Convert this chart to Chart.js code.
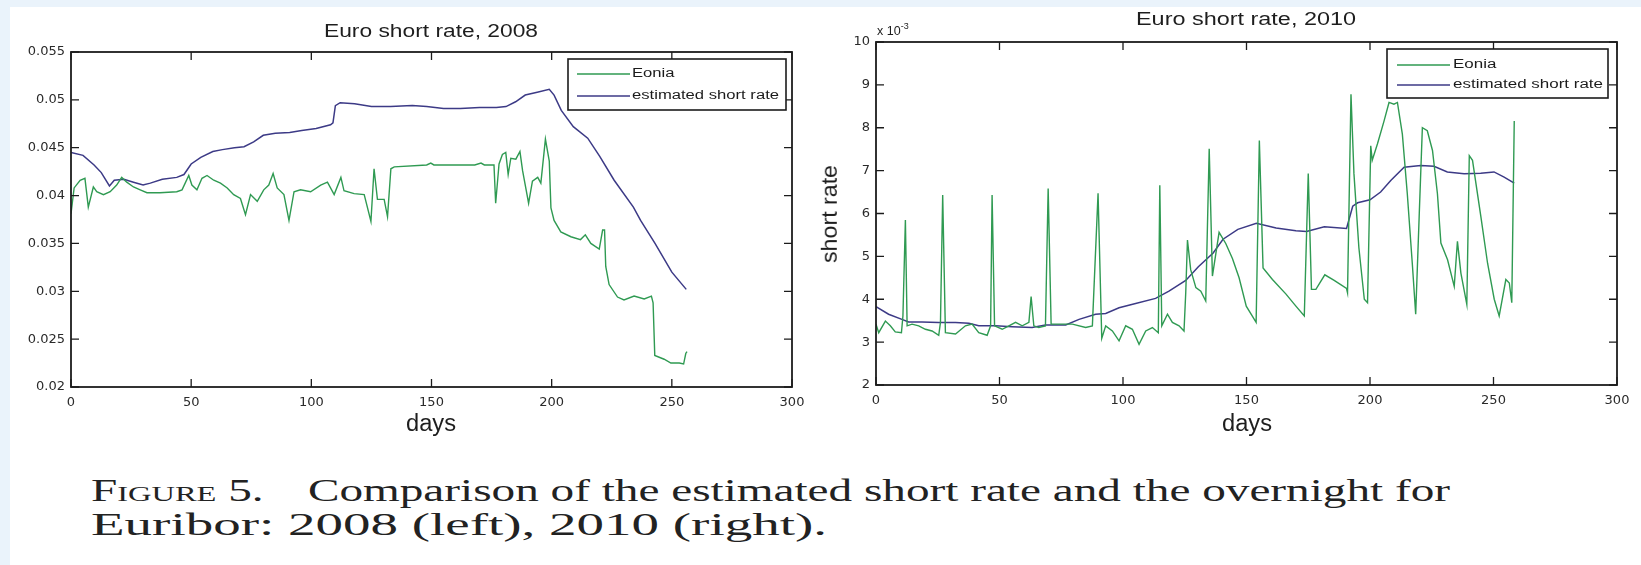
<!DOCTYPE html>
<html><head><meta charset="utf-8">
<title>Euro short rate</title>
<script src="https://cdn.jsdelivr.net/npm/chart.js@4.4.1/dist/chart.umd.min.js"></script>
<style>
html,body{margin:0;padding:0}
body{width:1641px;height:565px;overflow:hidden;position:relative;background:#ffffff}
#edgeL{position:absolute;left:0;top:0;width:10px;height:565px;background:#eaf3fb}
#edgeT{position:absolute;left:0;top:0;width:1641px;height:7px;background:#eaf3fb}
canvas{position:absolute;top:0}
.txt{position:absolute;white-space:nowrap;line-height:1;transform-origin:0 0;color:#1e1e1e}
.sans{font-family:"Liberation Sans",Arial,Helvetica,sans-serif}
.serif{font-family:"Liberation Serif","DejaVu Serif",serif;color:#222}
.sc{font-variant:small-caps}
</style></head><body>
<div id="edgeL"></div><div id="edgeT"></div>
<canvas id="c1" width="830" height="450" style="left:0px;width:830px;height:450px"></canvas>
<canvas id="c2" width="811" height="450" style="left:830px;width:811px;height:450px"></canvas>
<div class="txt sans" id="title1">Euro short rate, 2008</div>
<div class="txt sans" id="title2">Euro short rate, 2010</div>
<div class="txt sans" id="xlab1">days</div>
<div class="txt sans" id="xlab2">days</div>
<div class="txt sans" id="ylab2">short rate</div>
<div class="txt sans" id="mult2">x 10<sup style="font-size:9px;vertical-align:6px">-3</sup></div>
<div class="txt serif" id="cap1"><span class="sc">Figure</span> 5.<span style="display:inline-block;width:30px"></span>Comparison of the estimated short rate and the overnight for</div>
<div class="txt serif" id="cap2">Euribor: 2008 (left), 2010 (right).</div>
<script>
// ---------------- data ----------------
const seriesNames = ['Eonia', 'estimated short rate'];
const xTicks = [0, 50, 100, 150, 200, 250, 300];
const xTickLabels = ['0', '50', '100', '150', '200', '250', '300'];
const yTicks2008 = [0.02, 0.025, 0.03, 0.035, 0.04, 0.045, 0.05, 0.055];
const yTickLabels2008 = ['0.02', '0.025', '0.03', '0.035', '0.04', '0.045', '0.05', '0.055'];
const yTicks2010 = [2, 3, 4, 5, 6, 7, 8, 9, 10];
const yTickLabels2010 = ['2', '3', '4', '5', '6', '7', '8', '9', '10'];

// 2008 – Eonia
const days2008Eonia = [0,1.3,3.8,5.8,7.2,9.3,10.7,13.5,16.3,19,21.1,23.2,26,28.8,31.6,37,44,46.2,49,50.3,52.4,54.5,56.6,59.4,62.2,65,67.7,70.5,72.6,74.7,77.5,80.2,82.3,84.1,85.8,88.6,90.7,92.8,95.5,99.7,103.9,106.7,109.5,112.3,113.6,117.8,122,124.8,126.1,127.5,130.3,131.7,133.1,134.5,148,149.7,151,168,170.6,172,176,176.7,178.1,179.5,180.9,181.9,183,185.1,186.8,187.9,190.4,192,194.2,195.5,197.4,199,199.7,201,203.8,208,212,214,216.3,219.8,221.2,222,222.5,223.9,227.4,230.1,234.3,238.5,241.5,242.2,242.9,246.8,249.6,253.1,254.9,255.8,256.3];
const eonia2008 = [0.0381,0.0408,0.0416,0.0418,0.0388,0.0409,0.0404,0.0401,0.0404,0.0411,0.0419,0.0414,0.0409,0.0406,0.0403,0.0403,0.0404,0.0406,0.0421,0.0411,0.0406,0.0418,0.0421,0.0416,0.0413,0.0408,0.0401,0.0397,0.0380,0.0401,0.0394,0.0406,0.0411,0.0423,0.0408,0.0401,0.0374,0.0404,0.0406,0.0404,0.0411,0.0414,0.0401,0.0419,0.0405,0.0402,0.0401,0.0373,0.0428,0.0396,0.0396,0.0378,0.0428,0.0430,0.0432,0.0434,0.0432,0.0432,0.0434,0.0432,0.0432,0.0392,0.0433,0.0443,0.0445,0.0422,0.0439,0.0438,0.0446,0.0426,0.0392,0.0415,0.0419,0.0413,0.0459,0.0436,0.0387,0.0374,0.0362,0.0357,0.0354,0.0359,0.0350,0.0344,0.0364,0.0364,0.0326,0.0307,0.0294,0.0291,0.0295,0.0292,0.0295,0.0288,0.0233,0.0229,0.0225,0.0225,0.0224,0.0235,0.0237];
// 2008 – estimated short rate
const days2008Est = [0,5,9.6,12.6,16,18,22,26,30,33,38,44,47,50,54,59,63,68,72,76,80,85,91,96,102,108,109,110,112,118,125,133,142,148,155,162,170,177,181,185,189,194,199,201,204,209,215,220,226,234,237,243,250,256];
const est2008 = [0.0445,0.0442,0.0432,0.0424,0.0410,0.0416,0.0417,0.0414,0.0411,0.0413,0.0417,0.0419,0.0422,0.0433,0.0440,0.0446,0.0448,0.0450,0.0451,0.0456,0.0463,0.0465,0.0466,0.0468,0.0470,0.0474,0.0476,0.0494,0.0497,0.0496,0.0493,0.0493,0.0494,0.0493,0.0491,0.0491,0.0492,0.0492,0.0493,0.0498,0.0505,0.0508,0.0511,0.0505,0.0489,0.0472,0.0460,0.0441,0.0416,0.0388,0.0374,0.0350,0.0320,0.0302];

// 2010 – Eonia (x 10^-3)
const days2010Eonia = [0,1.1,3.8,5.8,7.8,10.3,10.9,11.9,12.6,14.6,17.3,20,22.7,25.4,26.1,27,28.1,32.2,36.2,38.9,41.6,45,46.4,47,48,51.1,53.8,56.5,59.2,61.9,62.8,63.9,65.9,68.6,69.7,70.9,74.1,79.5,84.9,87.6,89.9,91.4,93,95.7,98.4,101.1,103.8,106.5,109.2,111.9,114.3,114.9,115.7,118,120,122.7,124.7,125.4,126.1,127.4,129.5,131.5,133.5,134.9,136.2,138.9,141.6,144.3,147,149.9,153.9,155.2,156.7,160.5,166,170,173.4,175,176.3,178.1,181.7,185.5,190.5,190.9,192.3,193.5,195.5,197.7,199,200.3,200.9,203,205.7,207.7,209.7,211.1,213.1,215.1,217.2,218.5,219.9,221.2,223.2,225.3,227.3,228.7,231.4,234.1,235.4,236.8,239.2,240.2,241.5,244.9,247.6,250.3,252.3,255,256.4,257.4,258.4];
const eonia2010 = [3.42,3.22,3.49,3.38,3.24,3.22,3.61,5.85,3.38,3.42,3.38,3.30,3.26,3.16,3.46,6.43,3.22,3.19,3.38,3.42,3.22,3.16,3.38,6.43,3.38,3.30,3.38,3.46,3.38,3.46,4.06,3.38,3.34,3.38,6.58,3.42,3.42,3.42,3.34,3.38,6.47,3.09,3.38,3.26,3.03,3.38,3.30,2.95,3.26,3.34,3.22,6.66,3.38,3.65,3.46,3.38,3.26,4.15,5.38,4.69,4.27,4.19,3.96,7.51,4.54,5.56,5.30,4.95,4.50,3.84,3.46,7.70,4.73,4.46,4.12,3.84,3.61,6.93,4.23,4.23,4.57,4.44,4.25,4.15,8.78,6.93,5.20,4.00,3.92,7.58,7.24,7.62,8.16,8.59,8.55,8.59,7.85,6.46,4.77,3.65,5.92,8.00,7.93,7.47,6.46,5.31,4.92,4.30,5.35,4.61,3.88,7.35,7.24,5.92,4.84,4.00,3.61,4.46,4.38,3.92,8.16];
// 2010 – estimated short rate (x 10^-3)
const days2010Est = [0,5.1,10.5,13.2,18.6,25.4,32.2,37.6,41.6,48.4,55.1,63.2,68.6,76.8,82.2,88.9,93,98.4,105.1,113.2,118.6,125.4,130.5,136.5,140.5,146.5,154,162,170,174.3,181.5,190.5,193,195,200,204.3,208.4,213.8,220.5,225.9,231.3,238.1,244.8,250.2,254.3,258.4];
const est2010 = [3.83,3.65,3.53,3.47,3.47,3.46,3.46,3.44,3.38,3.38,3.36,3.34,3.40,3.40,3.53,3.65,3.67,3.80,3.90,4.02,4.19,4.44,4.76,5.08,5.40,5.63,5.77,5.66,5.60,5.58,5.69,5.65,6.17,6.25,6.32,6.50,6.77,7.08,7.12,7.10,6.97,6.93,6.94,6.97,6.85,6.71];

// ---------------- styling ----------------
const GREEN = '#2f9a52';
const BLUE = '#3c3a86';
const AXIS = '#1c1c1c';
const TICKFONT = {family: '"DejaVu Sans", sans-serif', size: 13};

function pts(xs, ys) { return xs.map((x, i) => ({x: x, y: ys[i]})); }

const matlabAxes = {
  id: 'matlabAxes',
  afterDatasetsDraw(chart, args, opts) {
    const ctx = chart.ctx, a = chart.chartArea, x = chart.scales.x, y = chart.scales.y;
    ctx.save();
    ctx.strokeStyle = AXIS;
    ctx.lineWidth = 1.3;
    ctx.beginPath();
    const L = opts.tickLen;
    xTicks.forEach(v => {
      const px = x.getPixelForValue(v);
      ctx.moveTo(px, a.bottom); ctx.lineTo(px, a.bottom - L);
      ctx.moveTo(px, a.top); ctx.lineTo(px, a.top + L);
    });
    opts.yTicks.forEach(v => {
      const py = y.getPixelForValue(v);
      ctx.moveTo(a.left, py); ctx.lineTo(a.left + L, py);
      ctx.moveTo(a.right, py); ctx.lineTo(a.right - L, py);
    });
    ctx.stroke();
    ctx.lineWidth = 1.8;
    ctx.strokeRect(a.left, a.top, a.right - a.left, a.bottom - a.top);
    // legend
    const lg = opts.legend;
    const bx = a.right - lg.dx - lg.w, by = a.top + lg.dy;
    ctx.fillStyle = '#ffffff';
    ctx.fillRect(bx, by, lg.w, lg.h);
    ctx.lineWidth = 1.6;
    ctx.strokeStyle = AXIS;
    ctx.strokeRect(bx, by, lg.w, lg.h);
    ctx.font = lg.font;
    const nat = ctx.measureText(chart.data.datasets[1].label).width;
    const sx = lg.textW / nat;
    chart.data.datasets.forEach((ds, i) => {
      const ry = by + lg.rows[i];
      ctx.strokeStyle = ds.borderColor;
      ctx.lineWidth = 1.5;
      ctx.beginPath(); ctx.moveTo(bx + lg.l0, ry); ctx.lineTo(bx + lg.l1, ry); ctx.stroke();
      ctx.fillStyle = '#1c1c1c';
      ctx.textBaseline = 'middle';
      ctx.textAlign = 'left';
      ctx.save(); ctx.translate(bx + lg.tx, ry); ctx.scale(sx, 1); ctx.fillText(ds.label, 0, 0); ctx.restore();
    });
    ctx.restore();
  }
};

function buildChart(id, cfg) {
  return new Chart(document.getElementById(id), {
    type: 'scatter',
    data: {datasets: [
      {label: seriesNames[0], data: pts(cfg.eDays, cfg.eVals), showLine: true, borderColor: GREEN, borderWidth: 1.4, pointRadius: 0, tension: 0},
      {label: seriesNames[1], data: pts(cfg.sDays, cfg.sVals), showLine: true, borderColor: BLUE, borderWidth: 1.5, pointRadius: 0, tension: 0}
    ]},
    options: {
      responsive: false, animation: false, events: [],
      layout: {padding: {top: cfg.padTop, right: cfg.padRight, left: 0, bottom: 0}},
      plugins: {
        legend: {display: false}, title: {display: false}, tooltip: {enabled: false},
        matlabAxes: {tickLen: 8, yTicks: cfg.yTicks, legend: cfg.legend}
      },
      scales: {
        x: {
          type: 'linear', min: 0, max: 300,
          afterBuildTicks: s => { s.ticks = xTicks.map(v => ({value: v})); },
          afterFit: s => { s.height = cfg.xAxisH; },
          grid: {display: false, drawTicks: false}, border: {display: false},
          ticks: {font: TICKFONT, color: '#2a2a2a', padding: cfg.xPad, maxRotation: 0, autoSkip: false,
                  callback: v => xTickLabels[xTicks.indexOf(v)]}
        },
        y: {
          type: 'linear', min: cfg.yTicks[0], max: cfg.yTicks[cfg.yTicks.length - 1],
          afterBuildTicks: s => { s.ticks = cfg.yTicks.map(v => ({value: v})); },
          afterFit: s => { s.width = cfg.yAxisW; },
          grid: {display: false, drawTicks: false}, border: {display: false},
          ticks: {font: TICKFONT, color: '#2a2a2a', padding: 6, autoSkip: false,
                  callback: v => cfg.yLabels[cfg.yTicks.indexOf(v)]}
        }
      }
    },
    plugins: [matlabAxes]
  });
}

const LEGFONT = '12px "Liberation Sans", Arial, sans-serif';
buildChart('c1', {
  eDays: days2008Eonia, eVals: eonia2008, sDays: days2008Est, sVals: est2008,
  yTicks: yTicks2008, yLabels: yTickLabels2008,
  padTop: 52, padRight: 38, yAxisW: 71, xAxisH: 63, xPad: 8,
  legend: {dx: 6, dy: 7, w: 218, h: 51, rows: [15, 37], l0: 9, l1: 62, tx: 64, textW: 147, font: LEGFONT}
});
buildChart('c2', {
  eDays: days2010Eonia, eVals: eonia2010, sDays: days2010Est, sVals: est2010,
  yTicks: yTicks2010, yLabels: yTickLabels2010,
  padTop: 42, padRight: 24, yAxisW: 46, xAxisH: 65, xPad: 8,
  legend: {dx: 9, dy: 7, w: 221, h: 49, rows: [16, 36], l0: 10, l1: 63, tx: 66, textW: 150, font: LEGFONT}
});

// ---------------- text placement ----------------
function place(id, o) {
  const el = document.getElementById(id);
  el.style.fontSize = o.fs + 'px';
  const nat = el.getBoundingClientRect().width;
  const sx = o.w ? o.w / nat : 1;
  const w = nat * sx;
  const left = o.anchor === 'center' ? o.x - w / 2 : o.x;
  el.style.left = left + 'px';
  el.style.top = (o.base - o.asc * o.fs) + 'px';
  el.style.transform = 'scaleX(' + sx + ')';
}
function placeRot(id, o) {
  const el = document.getElementById(id);
  el.style.fontSize = o.fs + 'px';
  const r = el.getBoundingClientRect();
  const sx = o.len / r.width;
  el.style.left = o.cx + 'px';
  el.style.top = o.cy + 'px';
  el.style.transformOrigin = '0 0';
  el.style.transform = 'rotate(-90deg) scaleX(' + sx + ') translate(' + (-r.width / 2) + 'px,' + (-o.fs * 0.6) + 'px)';
}
place('title1', {x: 431, base: 38, fs: 17.5, w: 214, anchor: 'center', asc: 0.846});
place('title2', {x: 1246, base: 26, fs: 17.5, w: 220, anchor: 'center', asc: 0.846});
place('xlab1', {x: 431, base: 431, fs: 23, w: 50, anchor: 'center', asc: 0.846});
place('xlab2', {x: 1247, base: 431, fs: 23, w: 50, anchor: 'center', asc: 0.846});
place('mult2', {x: 877, base: 33, fs: 12.5, w: 0, anchor: 'left', asc: 0.846});
placeRot('ylab2', {cx: 832, cy: 214, fs: 22, len: 98});
place('cap1', {x: 91, base: 501, fs: 32, w: 1359, anchor: 'left', asc: 0.8375});
place('cap2', {x: 91, base: 535, fs: 32, w: 736, anchor: 'left', asc: 0.8375});
</script>
</body></html>
